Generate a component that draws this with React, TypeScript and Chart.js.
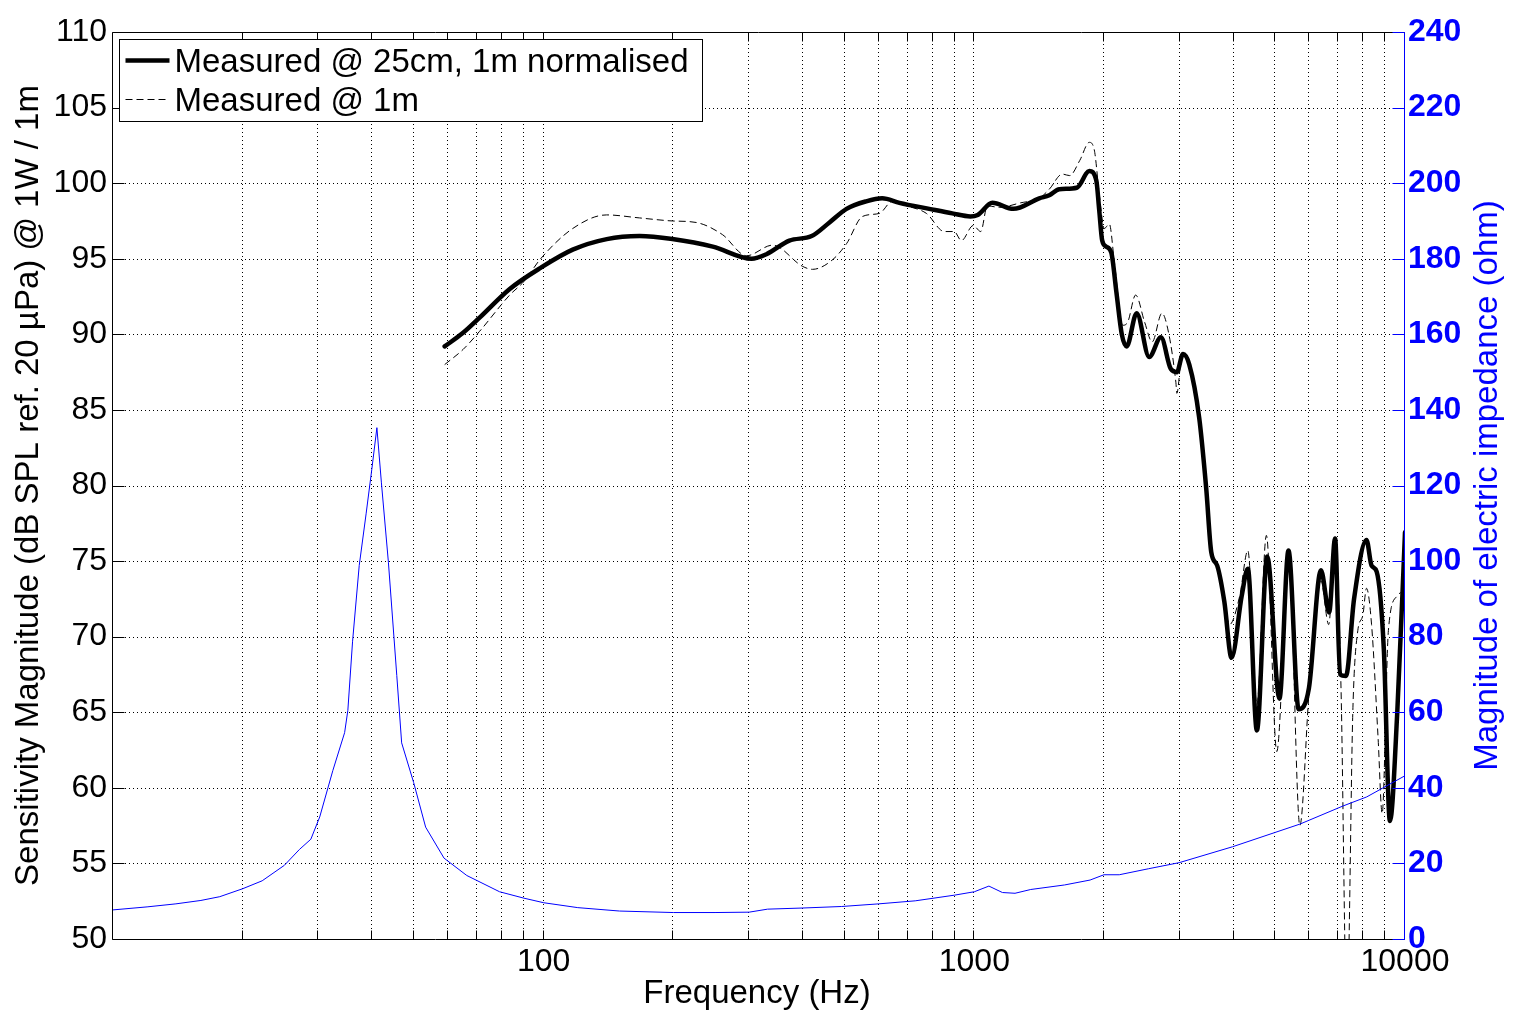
import React, { useEffect, useRef } from 'react';
import { Chart, registerables } from 'chart.js';

Chart.register(...registerables);

// ---------- data ----------
const nearLabel = 'Measured @ 25cm, 1m normalised';
const nearFreq = [58.9, 65, 71, 83.4, 98.4, 116.8, 140.1, 167, 199, 247, 304, 329, 372, 419, 461, 505, 561, 611, 670, 786, 889, 979, 1018, 1101, 1232, 1415, 1493, 1575, 1730, 1849, 1919, 1950, 1981, 2025, 2080, 2137, 2200, 2258, 2382, 2547, 2712, 2860, 2953, 3052, 3156, 3327, 3455, 3549, 3664, 3807, 3956, 4177, 4316, 4530, 4787, 5110, 5364, 5663, 5983, 6381, 6666, 6881, 7066, 7294, 7616, 8140, 8363, 8594, 8929, 9226, 9595, 10000];
const nearDb = [89.2, 90.1, 91.1, 93.0, 94.4, 95.6, 96.3, 96.5, 96.3, 95.8, 95.0, 95.3, 96.2, 96.5, 97.4, 98.3, 98.8, 99.0, 98.7, 98.3, 98.0, 97.8, 97.9, 98.7, 98.3, 99.0, 99.2, 99.6, 99.7, 100.8, 100.2, 98.2, 96.2, 95.8, 95.4, 92.8, 90.0, 89.2, 91.4, 88.5, 89.8, 87.7, 87.5, 88.7, 88.0, 84.5, 79.8, 75.6, 74.7, 72.3, 68.6, 72.7, 74.5, 63.8, 75.3, 65.9, 75.7, 65.2, 66.6, 74.4, 71.6, 76.5, 67.5, 67.4, 72.5, 76.4, 74.7, 74.3, 69.2, 57.8, 65.0, 76.9];

const farLabel = 'Measured @ 1m';
const farFreq = [58.9, 65, 71, 83.4, 90, 98.4, 116.8, 140, 167, 199, 226, 260, 296, 340, 399, 421, 467, 505, 550, 602, 645, 697, 774, 852, 898, 933, 994, 1035, 1072, 1143, 1281, 1415, 1493, 1601, 1665, 1757, 1849, 1899, 1950, 2003, 2058, 2114, 2211, 2270, 2369, 2486, 2588, 2726, 2830, 2938, 2953, 3035, 3156, 3327, 3455, 3549, 3664, 3807, 3913, 4133, 4316, 4530, 4766, 5038, 5375, 5700, 5990, 6381, 6650, 6881, 7100, 7330, 7570, 7770, 7980, 8140, 8363, 8660, 8850, 9150, 9590, 10000];
const farDb = [88.0, 89.0, 90.2, 92.6, 93.5, 95.0, 97.0, 97.9, 97.7, 97.5, 97.4, 96.6, 95.2, 95.9, 94.5, 94.3, 94.9, 96.0, 97.8, 98.0, 98.8, 98.5, 98.0, 96.8, 96.8, 96.2, 97.2, 96.8, 98.5, 98.4, 98.7, 99.0, 99.6, 100.6, 100.5, 101.5, 102.7, 102.2, 99.3, 97.0, 97.3, 94.8, 90.6, 90.8, 92.6, 90.8, 89.5, 91.4, 90.0, 86.8, 86.1, 88.6, 88.0, 84.5, 79.8, 75.6, 74.7, 72.3, 70.8, 72.7, 75.7, 65.5, 76.7, 62.4, 75.5, 57.5, 66.4, 73.7, 70.8, 76.4, 66.8, 45.0, 65.3, 70.4, 71.4, 73.2, 70.8, 63.3, 58.3, 70.4, 72.7, 73.0];

const impLabel = 'Impedance';
const impFreq = [10, 12, 14, 16, 17.7, 20, 22.2, 25, 27.1, 28.8, 30.2, 32.4, 34.5, 35.1, 36.0, 37.3, 38.7, 39.9, 41.0, 42.0, 43.6, 45.6, 46.8, 49.9, 53.2, 58.7, 66.3, 79, 90, 100, 120, 150, 200, 250, 300, 331, 400, 492, 600, 729, 899, 1000, 1081, 1162, 1243, 1352, 1620, 1857, 2000, 2170, 2540, 2990, 3975, 5700, 7180, 8150, 9060, 10000];
const impOhm = [7.7, 8.5, 9.3, 10.2, 11.2, 13.3, 15.4, 19.5, 23.7, 26.4, 32.3, 44.6, 54.6, 60.5, 78.8, 98.8, 112.5, 124.3, 135.3, 120.7, 99.7, 69.7, 51.9, 41.4, 29.6, 21.4, 16.8, 12.5, 10.8, 9.6, 8.3, 7.4, 7.0, 7.0, 7.1, 7.9, 8.2, 8.6, 9.3, 10.1, 11.6, 12.5, 14.0, 12.3, 12.1, 13.1, 14.3, 15.6, 17.0, 17.0, 18.6, 20.2, 24.4, 30.4, 35.2, 37.6, 40.5, 43.2];

const xGridValues = [20, 30, 40, 50, 60, 70, 80, 90, 100, 200, 300, 400, 500, 600, 700, 800, 900, 1000, 2000, 3000, 4000, 5000, 6000, 7000, 8000, 9000, 10000];
const xLabelValues = [100, 1000, 10000];

const xTitle = 'Frequency (Hz)';
const yTitle = 'Sensitivity Magnitude (dB SPL ref. 20 µPa) @ 1W / 1m';
const y1Title = 'Magnitude of electric impedance (ohm)';

const FAMILY = "'Liberation Sans', Arial, Helvetica, sans-serif";
const BLUE = '#0000ff';

const toPoints = (xs: number[], ys: number[]) => xs.map((x, i) => ({ x, y: ys[i] }));

const matlabFrame = {
  id: 'matlabFrame',
  beforeDatasetsDraw(chart: any) {
    const { ctx, chartArea, scales } = chart;
    const { left, right, top, bottom } = chartArea;
    ctx.save();
    ctx.strokeStyle = '#000';
    ctx.lineWidth = 1;
    ctx.setLineDash([1, 3]);
    ctx.beginPath();
    for (const v of xGridValues) {
      const px = Math.round(scales.x.getPixelForValue(v)) - 0.5;
      if (px <= left + 1 || px >= right - 1) continue;
      ctx.moveTo(px, top);
      ctx.lineTo(px, bottom);
    }
    for (const t of scales.y.ticks) {
      const py = Math.round(scales.y.getPixelForValue(t.value)) + 0.5;
      if (py <= top + 1 || py >= bottom - 1) continue;
      ctx.moveTo(left, py);
      ctx.lineTo(right, py);
    }
    ctx.stroke();
    ctx.restore();
  },
  afterDatasetsDraw(chart: any) {
    const { ctx, chartArea, scales } = chart;
    const { left, right, top, bottom } = chartArea;
    const L = Math.round(left) - 0.5;
    const R = Math.round(right) - 0.5;
    const T = Math.round(top) + 0.5;
    const B = Math.round(bottom) + 0.5;
    ctx.save();
    ctx.setLineDash([]);
    ctx.lineWidth = 1;
    ctx.strokeStyle = '#000';
    ctx.beginPath();
    ctx.moveTo(R, T); ctx.lineTo(L, T); ctx.lineTo(L, B); ctx.lineTo(R, B);
    // x ticks
    for (const v of xGridValues) {
      const px = Math.round(scales.x.getPixelForValue(v)) - 0.5;
      ctx.moveTo(px, B); ctx.lineTo(px, B - 9);
      ctx.moveTo(px, T); ctx.lineTo(px, T + 9);
    }
    for (const t of scales.y.ticks) {
      const py = Math.round(scales.y.getPixelForValue(t.value)) + 0.5;
      ctx.moveTo(L, py); ctx.lineTo(L + 12, py);
    }
    ctx.stroke();
    ctx.strokeStyle = BLUE;
    ctx.beginPath();
    ctx.moveTo(R, T); ctx.lineTo(R, B);
    for (const t of scales.y1.ticks) {
      const py = Math.round(scales.y1.getPixelForValue(t.value)) + 0.5;
      ctx.moveTo(R, py); ctx.lineTo(R - 12, py);
    }
    ctx.stroke();
    ctx.restore();
  },
  afterDraw(chart: any) {
    const { ctx, chartArea } = chart;
    const { left, right, top, bottom } = chartArea;
    const midY = (top + bottom) / 2;
    ctx.save();
    // titles
    ctx.font = `33px ${FAMILY}`;
    ctx.fillStyle = '#000';
    ctx.textAlign = 'center';
    ctx.textBaseline = 'alphabetic';
    ctx.fillText(xTitle, (left + right) / 2 - 2, bottom + 64);
    ctx.save();
    ctx.translate(38, midY);
    ctx.rotate(-Math.PI / 2);
    ctx.fillText(yTitle, 0, 0);
    ctx.restore();
    ctx.save();
    ctx.fillStyle = BLUE;
    ctx.translate(right + 92, midY);
    ctx.rotate(-Math.PI / 2);
    ctx.fillText(y1Title, 0, 0);
    ctx.restore();

    // legend
    const bx = Math.round(left) + 6.5;
    const by = Math.round(top) + 7.5;
    const bw = 583;
    const bh = 82;
    ctx.fillStyle = '#fff';
    ctx.fillRect(bx, by, bw, bh);
    ctx.strokeStyle = '#000';
    ctx.lineWidth = 1;
    ctx.setLineDash([]);
    ctx.strokeRect(bx, by, bw, bh);
    const items = chart.data.datasets.filter((d: any) => d.label === nearLabel || d.label === farLabel);
    items.sort((a: any, b: any) => (a.label === nearLabel ? -1 : 1));
    items.forEach((d: any, i: number) => {
      const cy = by + 21 + i * 39;
      ctx.save();
      ctx.strokeStyle = d.borderColor;
      ctx.lineWidth = d.borderWidth;
      ctx.setLineDash(d.borderDash || []);
      ctx.beginPath();
      ctx.moveTo(bx + 6, cy);
      ctx.lineTo(bx + 50, cy);
      ctx.stroke();
      ctx.restore();
      ctx.fillStyle = '#000';
      ctx.font = `33px ${FAMILY}`;
      ctx.textAlign = 'left';
      ctx.textBaseline = 'alphabetic';
      ctx.fillText(d.label, bx + 55, cy + 11.5);
    });
    ctx.restore();
  },
};

export default function App() {
  const canvasRef = useRef<HTMLCanvasElement | null>(null);

  useEffect(() => {
    const canvas = canvasRef.current;
    if (!canvas) return;
    const chart = new Chart(canvas, {
      type: 'line',
      data: {
        datasets: [
          {
            label: impLabel,
            data: toPoints(impFreq, impOhm),
            yAxisID: 'y1',
            borderColor: BLUE,
            borderWidth: 1,
            pointRadius: 0,
            tension: 0,
            fill: false,
            order: 0,
          },
          {
            label: nearLabel,
            data: toPoints(nearFreq, nearDb),
            yAxisID: 'y',
            borderColor: '#000',
            borderWidth: 4.5,
            pointRadius: 0,
            cubicInterpolationMode: 'monotone',
            borderJoinStyle: 'round',
            borderCapStyle: 'round',
            fill: false,
            order: 1,
          },
          {
            label: farLabel,
            data: toPoints(farFreq, farDb),
            yAxisID: 'y',
            borderColor: '#000',
            borderWidth: 1,
            borderDash: [7, 4],
            pointRadius: 0,
            cubicInterpolationMode: 'monotone',
            fill: false,
            order: 2,
          },
        ],
      },
      options: {
        responsive: false,
        maintainAspectRatio: false,
        devicePixelRatio: 1,
        animation: false,
        events: [],
        layout: { padding: { top: 32, left: 0, right: 0, bottom: 0 } },
        plugins: { legend: { display: false }, tooltip: { enabled: false }, title: { display: false } },
        scales: {
          x: {
            type: 'logarithmic',
            min: 10,
            max: 10000,
            grid: { display: false, drawTicks: false },
            border: { display: false },
            afterBuildTicks: (scale: any) => {
              scale.ticks = xGridValues.map((v) => ({ value: v }));
            },
            afterFit: (scale: any) => {
              scale.height = 90;
            },
            ticks: {
              autoSkip: false,
              maxRotation: 0,
              minRotation: 0,
              padding: 4,
              color: '#000',
              font: { size: 32, family: FAMILY },
              callback: (v: any) => (xLabelValues.includes(Number(v)) ? String(v) : ''),
            },
          },
          y: {
            type: 'linear',
            position: 'left',
            min: 50,
            max: 110,
            grid: { display: false, drawTicks: false },
            border: { display: false },
            afterFit: (scale: any) => {
              scale.width = 113;
            },
            ticks: {
              stepSize: 5,
              padding: 6,
              color: '#000',
              font: { size: 32, family: FAMILY },
            },
          },
          y1: {
            type: 'linear',
            position: 'right',
            min: 0,
            max: 240,
            grid: { display: false, drawTicks: false, drawOnChartArea: false },
            border: { display: false },
            afterFit: (scale: any) => {
              scale.width = 109;
            },
            ticks: {
              stepSize: 20,
              padding: 3,
              color: BLUE,
              font: { size: 32, family: FAMILY, weight: 'bold' },
            },
          },
        },
      },
      plugins: [matlabFrame],
    } as any);
    return () => chart.destroy();
  }, []);

  return (
    <div style={{ position: 'absolute', left: 0, top: 0, width: 1514, height: 1029, background: '#fff' }}>
      <canvas ref={canvasRef} width={1514} height={1029} style={{ display: 'block', width: 1514, height: 1029 }} />
    </div>
  );
}
